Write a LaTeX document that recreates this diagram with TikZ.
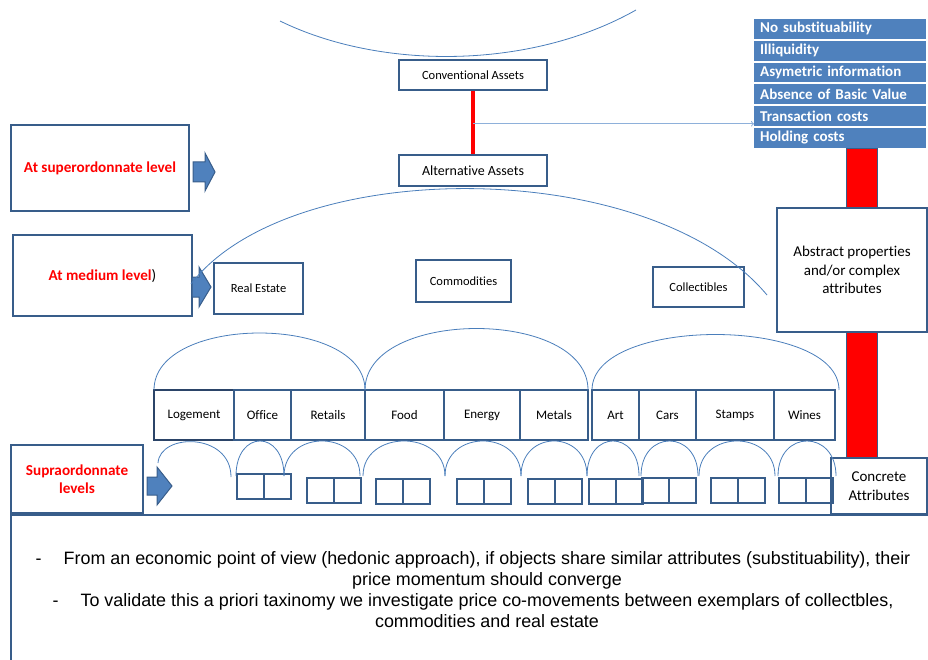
\documentclass[tikz,border=0pt]{standalone}
\usepackage{fontspec}
\setmainfont{Carlito}[Ligatures=NoCommon]
\newfontfamily\arialfont{Liberation Sans}
\usetikzlibrary{positioning}

\definecolor{boxblue}{HTML}{385D8A}
\definecolor{fillblue}{HTML}{4F81BD}
\definecolor{arcblue}{HTML}{4A7EBB}
\definecolor{lineblue}{HTML}{8EB0DA}
\definecolor{darkblue}{HTML}{2B4468}

\begin{document}
\begin{tikzpicture}[x=1pt, y=-1pt,
    box/.style={draw=boxblue, line width=2pt, fill=white, inner sep=0pt, outer sep=0pt, align=center},
    small/.style={font=\fontsize{12.5}{15}\selectfont},
    cat/.style={box, minimum height=50pt, font=\fontsize{13}{15}\selectfont},
    cell/.style={draw=boxblue, line width=2pt, minimum width=27pt, minimum height=25pt, inner sep=0pt, outer sep=0pt},
    level/.style={box, text=red, font=\bfseries\fontsize{15.2}{18.5}\selectfont},
    item/.style={fill=fillblue, text=white, font=\bfseries\fontsize{15}{17}\selectfont, minimum height=19.8pt, text width=160pt, inner xsep=6pt, inner ysep=0pt, align=left, anchor=west},
    arc/.style={draw=arcblue, line width=0.8pt},
    blk/.style={fill=fillblue, draw=boxblue, line width=1pt}
]
    \useasboundingbox (0,0) rectangle (928,660);

    % Frame of the notes.
    \draw[boxblue, line width=1.5pt] (11,662) |- (929,515);

    % Top level.
    \draw[arc] (280,21) .. controls (380,70) and (530,70) .. (636,10);
    \node[box, small, minimum width=148pt, minimum height=30pt] (conv) at (473,75) {Conventional Assets};
    \node[box, font=\fontsize{14}{16}\selectfont, minimum width=148pt, minimum height=31pt] (alt) at (473,170.5) {Alternative Assets};
    \draw[red, line width=4pt, shorten <=1pt, shorten >=1pt] (conv.south) -- (alt.north);
    \path (conv.south) -- (alt.north) coordinate[pos=0.52] (split);

    % Properties.
    \foreach \t [count=\i] in {No substituability, Illiquidity, Asymetric information, Absence of Basic Value, Transaction costs, Holding costs}
        \node[item] (it\i) at (754, 7.1+21.8*\i) {\t};
    \draw[lineblue, line width=1pt, ->] (split) -- (split -| it5.west);

    \fill[red, draw=boxblue, line width=0.8pt] (846,148) rectangle (877,457);
    \node[box, font=\fontsize{15}{18.7}\selectfont, minimum width=150pt, minimum height=124pt] (abs) at (852,270) {Abstract properties\\and/or complex\\attributes};
    \node[box, line width=1.5pt, font=\fontsize{15}{18.7}\selectfont, minimum width=96pt, minimum height=56pt] (conc) at (879,486) {Concrete\\Attributes};

    % Levels.
    \node[level, minimum width=178pt, minimum height=86pt] (sup) at (100,168) {At superordonnate level};
    \node[level, minimum width=179pt, minimum height=81pt] (med) at (102.5,275.5) {At medium level{\color{black}\mdseries)}};
    \node[level, line width=1.5pt, minimum width=132pt, minimum height=68pt] (supra) at (77,479) {Supraordonnate\\levels};

    \draw[blk] (193,162) -- (205,162) -- (205,153) -- (215,172) -- (205,191) -- (205,182) -- (193,182) -- cycle;
    \draw[blk] (192,277) -- (199,277) -- (199,267) -- (211,287) -- (199,307) -- (199,297) -- (192,297) -- cycle;
    \draw[blk] (147,477) -- (157,477) -- (157,467) -- (172,486) -- (157,505) -- (157,495) -- (147,495) -- cycle;

    % Medium level.
    \node[box, small, minimum width=89pt, minimum height=51pt] (re) at (258.5,288.5) {Real Estate};
    \node[box, small, minimum width=95pt, minimum height=42pt] (com) at (463.5,281) {Commodities};
    \node[box, small, minimum width=91pt, minimum height=40pt] (col) at (698.5,287) {Collectibles};
    \draw[arc] (191,284) .. controls (290,155) and (650,155) .. (767,295);

    % Categories.
    \node[cat, draw=darkblue, minimum width=80pt] (logement) at (194,415) {Logement};
    \node[cat, minimum width=57pt, right=0pt of logement] (office) {Office};
    \node[cat, minimum width=74pt, right=0pt of office] (retails) {Retails};
    \node[cat, minimum width=79pt, right=0pt of retails] (food) {Food};
    \node[cat, minimum width=76pt, right=0pt of food] (energy) {Energy};
    \node[cat, minimum width=68pt, right=0pt of energy] (metals) {Metals};
    \node[cat, minimum width=47pt, right=4pt of metals] (art) {Art};
    \node[cat, minimum width=57pt, right=0pt of art] (cars) {Cars};
    \node[cat, minimum width=78pt, right=0pt of cars] (stamps) {Stamps};
    \node[cat, minimum width=61pt, right=0pt of stamps] (wines) {Wines};

    \draw[arc] (logement.north west) .. controls +(0,-76) and +(0,-76) .. (retails.north east);
    \draw[arc] (retails.north east) .. controls +(0,-82) and +(0,-82) .. (metals.north east);
    \draw[arc] (art.north west) .. controls +(0,-74) and +(0,-74) .. ([xshift=4pt]wines.north east);

    % Exemplars.
    \foreach \i/\x/\y in {1/237/486, 2/307/490.5, 3/376/491.5, 4/457/491.5, 5/528/491.5, 6/589/491.5, 7/642/490.5, 8/711/490, 9/779/490} {
        \node[cell] (c\i-l) at (\x+13.5,\y) {};
        \node[cell, right=0pt of c\i-l] (c\i-r) {};
    }
    \draw[arc] (158,463) .. controls (160,432.5) and (231,432.5) .. (231,477);
    \foreach \a/\b in {236/284, 284/360, 363/445, 445/521, 521/587, 587/639, 641/698, 699/775, 778/836}
        \draw[arc] (\a,476) .. controls (\a,429.3) and (\b,429.3) .. (\b,476);

    % Notes.
    \node[font=\arialfont\fontsize{17.9}{21}\selectfont, align=center] (note) at (487,590)
        {\leavevmode\llap{-\hspace{22pt}}From an economic point of view (hedonic approach), if objects share similar attributes (substituability), their\\
        price momentum should converge\\
        \leavevmode\llap{-\hspace{22pt}}To validate this a priori taxinomy we investigate price co-movements between exemplars of collectbles,\\
        commodities and real estate};
\end{tikzpicture}
\end{document}
